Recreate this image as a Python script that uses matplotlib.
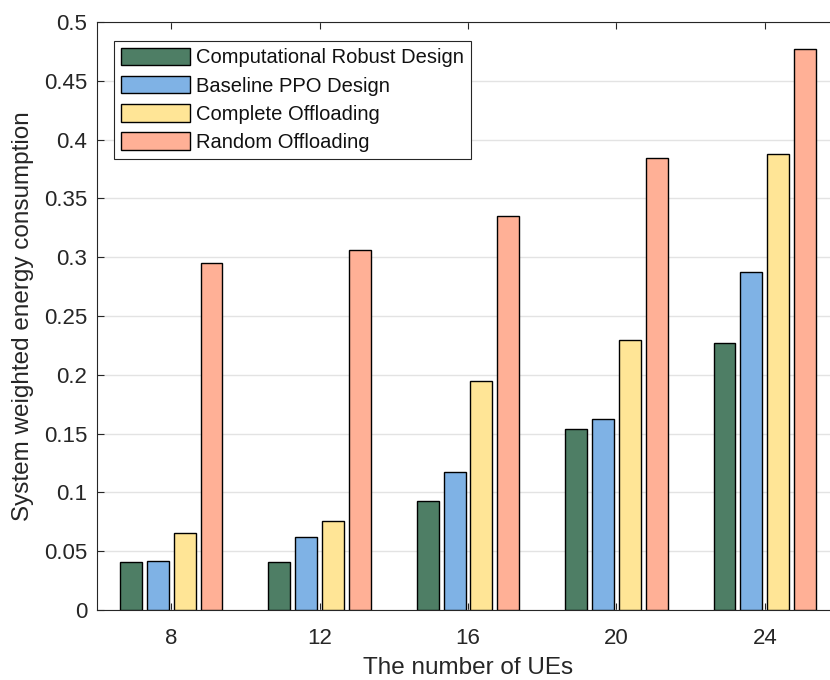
import matplotlib
matplotlib.use("Agg")
import matplotlib.pyplot as plt
import numpy as np

plt.rcParams['font.family'] = ['Liberation Sans', 'DejaVu Sans']

categories = ['8', '12', '16', '20', '24']
series_names = ['Computational Robust Design', 'Baseline PPO Design',
                'Complete Offloading', 'Random Offloading']
robust = [0.041, 0.041, 0.093, 0.154, 0.227]
ppo = [0.042, 0.062, 0.117, 0.162, 0.287]
complete = [0.0655, 0.076, 0.195, 0.230, 0.388]
random_off = [0.295, 0.306, 0.335, 0.384, 0.477]
yticks = [0, 0.05, 0.1, 0.15, 0.2, 0.25, 0.3, 0.35, 0.4, 0.45, 0.5]
ytick_labels = ['0', '0.05', '0.1', '0.15', '0.2', '0.25', '0.3', '0.35', '0.4', '0.45', '0.5']

colors = ['#4e7e65', '#7fb2e5', '#ffe596', '#ffb096']
data = [robust, ppo, complete, random_off]

W, H = 830, 680
fig = plt.figure(figsize=(W / 100, H / 100), dpi=100)
ax = fig.add_axes([97 / W, 70 / H, (839 - 97) / W, (610 - 22) / H])

x = np.arange(len(categories))
step = 0.181
width = 0.148
axis_col = '#262626'
for i, (vals, c, name) in enumerate(zip(data, colors, series_names)):
    ax.bar(x + (i - 1.5) * step, vals, width, color=c, edgecolor='black',
           linewidth=1.0, label=name, zorder=3)

ax.set_xlim(-0.5, len(categories) - 0.5)
ax.set_ylim(0, 0.5)
ax.set_xticks(x)
ax.set_xticklabels(categories)
ax.set_yticks(yticks)
ax.set_yticklabels(ytick_labels)
ax.yaxis.grid(True, color='#e3e3e3', linewidth=1.0, zorder=0)
ax.set_axisbelow(True)
ax.tick_params(direction='in', length=5, width=0.8, colors=axis_col,
               labelsize=16, top=True, right=True)
ax.tick_params(axis='y', pad=7)
ax.tick_params(axis='x', pad=13)
for s in ax.spines.values():
    s.set_color(axis_col)
    s.set_linewidth(0.8)

ax.set_xlabel('The number of UEs', fontsize=17.5, color=axis_col, labelpad=6)
ax.set_ylabel('System weighted energy consumption', fontsize=17.5, color=axis_col, labelpad=7)

leg = ax.legend(loc='upper left', bbox_to_anchor=(114 / W, 1 - 41 / H),
                bbox_transform=fig.transFigure, fontsize=14.5,
                handlelength=3.45, handleheight=0.95, handletextpad=0.3,
                labelspacing=0.43, borderpad=0.33, borderaxespad=0,
                fancybox=False, framealpha=1.0)
leg.get_frame().set_edgecolor(axis_col)
leg.get_frame().set_linewidth(0.8)
for t in leg.get_texts():
    t.set_color('#111111')

fig.savefig('out.png', dpi=100)
